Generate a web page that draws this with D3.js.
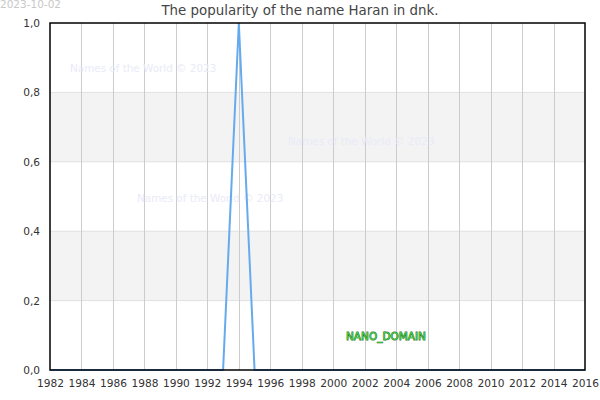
<!DOCTYPE html>
<html><head><meta charset="utf-8">
<script src="https://cdn.jsdelivr.net/npm/d3@7"></script>
<style>body{margin:0;background:#fff}svg{display:block;font-family:"DejaVu Sans",sans-serif}</style>
</head><body><svg id="c" width="600" height="400"></svg>
<script>
const title = "The popularity of the name Haran in dnk.";
const dateLabel = "2023-10-02";
const years = d3.range(1982, 2017);
const values = years.map(y => y === 1994 ? 1 : 0);
const xTicks = d3.range(1982, 2017, 2);
const yTicks = [0, 0.2, 0.4, 0.6, 0.8, 1.0];
const bands = [[0.2, 0.4], [0.6, 0.8]];
const watermarks = [[70, 72], [288, 145], [137, 202]];

const svg = d3.select("#c");
const m = {l: 50, r: 585, t: 23, b: 370};
const x = d3.scaleLinear().domain([1982, 2016]).range([m.l, m.r]);
const y = d3.scaleLinear().domain([0, 1]).range([m.b, m.t]);
const tickFont = "'DejaVu Sans', sans-serif";

svg.selectAll("rect.band").data(bands).join("rect")
  .attr("x", m.l).attr("width", m.r - m.l)
  .attr("y", d => y(d[1])).attr("height", d => y(d[0]) - y(d[1]))
  .attr("fill", "#f3f3f3");
svg.selectAll("line.hg").data(yTicks.slice(1, -1)).join("line")
  .attr("x1", m.l).attr("x2", m.r).attr("y1", d => y(d)).attr("y2", d => y(d))
  .attr("stroke", "#e0e0e0").attr("stroke-width", 1);
svg.selectAll("line.vg").data(xTicks.slice(1, -1)).join("line")
  .attr("x1", d => Math.round(x(d)) + 0.5).attr("x2", d => Math.round(x(d)) + 0.5)
  .attr("y1", m.t).attr("y2", m.b)
  .attr("stroke", "#cccccc").attr("stroke-width", 1);

svg.selectAll("text.wm").data(watermarks).join("text")
  .attr("x", d => d[0]).attr("y", d => d[1])
  .attr("font-size", 10.4).attr("fill", "#eaeaf8")
  .text("Names of the World © 2023");

svg.append("path").datum(values)
  .attr("fill", "none").attr("stroke", "#66aaee").attr("stroke-width", 2)
  .attr("d", d3.line().x((d, i) => x(years[i])).y(d => y(d)));

svg.append("rect").attr("x", m.l).attr("y", m.t)
  .attr("width", m.r - m.l).attr("height", m.b - m.t)
  .attr("fill", "none").attr("stroke", "#000").attr("stroke-width", 1.5);

const xa = svg.append("g").attr("transform", `translate(0,${m.b})`)
  .call(d3.axisBottom(x).tickValues(xTicks).tickFormat(d3.format("d")).tickSize(0));
xa.select(".domain").remove();
xa.selectAll("text").attr("font-size", 10.6).attr("fill", "#333").attr("font-family", tickFont)
  .attr("dy", null).attr("y", 17);

const ya = svg.append("g").attr("transform", `translate(${m.l},0)`)
  .call(d3.axisLeft(y).tickValues(yTicks).tickFormat(d => d3.format(".1f")(d).replace(".", ",")).tickSize(0).tickPadding(10));
ya.select(".domain").remove();
ya.selectAll("text").attr("font-size", 10.6).attr("fill", "#333").attr("font-family", tickFont);

svg.append("text").attr("x", 300).attr("y", 15).attr("text-anchor", "middle")
  .attr("font-size", 13.4).attr("fill", "#444").text(title);
svg.append("text").attr("x", 0).attr("y", 8)
  .attr("font-size", 10.5).attr("fill", "#c8c8c8").text(dateLabel);

svg.append("text").attr("x", 386).attr("y", 340).attr("text-anchor", "middle")
  .attr("font-size", 10.5).attr("fill", "#44cc44").attr("stroke", "#1e6e1e").attr("stroke-width", 0.8)
  .attr("paint-order", "stroke").text("NANO_DOMAIN");
</script></body></html>
